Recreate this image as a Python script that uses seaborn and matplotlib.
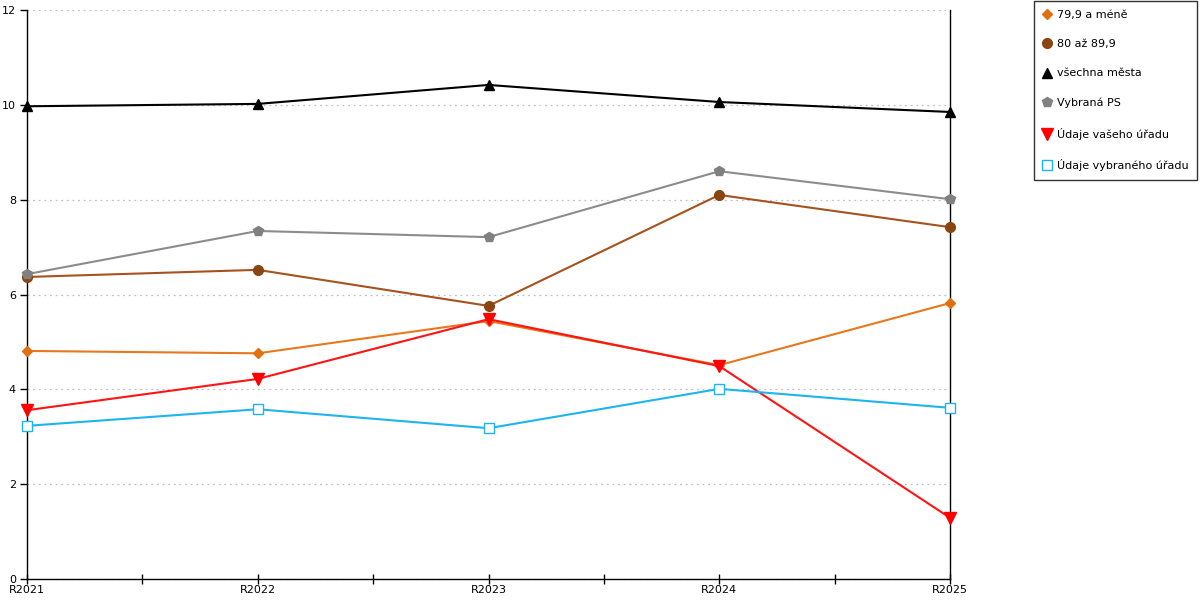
import matplotlib
matplotlib.use("Agg")
import matplotlib.pyplot as plt
from matplotlib.lines import Line2D
from matplotlib.ticker import FixedLocator
import seaborn as sns
import pandas as pd

# data
years = ["R2021", "R2022", "R2023", "R2024", "R2025"]
small_towns = [4.81, 4.76, 5.44, 4.51, 5.82]
mid_towns = [6.37, 6.52, 5.76, 8.10, 7.42]
all_towns = [9.97, 10.02, 10.42, 10.06, 9.85]
selected_ps = [6.43, 7.34, 7.21, 8.60, 8.01]
your_office = [3.56, 4.22, 5.48, 4.49, 1.29]
selected_office = [3.23, 3.58, 3.18, 4.01, 3.61]

labels = ["79,9 a méně", "80 až 89,9", "všechna města",
          "Vybraná PS", "Údaje vašeho úřadu", "Údaje vybraného úřadu"]
series = [small_towns, mid_towns, all_towns, selected_ps, your_office, selected_office]

# style per series: line colour, marker, marker face, marker size
styles = [
    ("#E8781E", "D", "#E07012", 5.5),
    ("#A5521C", "o", "#8B4510", 7),
    ("#000000", "^", "#000000", 7.5),
    ("#8C8C8C", "p", "#808080", 7.5),
    ("#FF1414", "v", "#FF0000", 8),
    ("#1EB4F0", "s", "white", 7),
]

sns.set_style("white")
plt.rcParams["font.family"] = ["DejaVu Sans"]
plt.rcParams["text.color"] = "black"

fig = plt.figure(figsize=(12, 6), dpi=100)
ax = fig.add_axes([0.0225, 0.035, 0.7692, 0.9483])

handles = []
for lab, vals, (lc, mk, mfc, ms) in zip(labels, series, styles):
    df = pd.DataFrame({"x": range(len(years)), "y": vals})
    edge = lc if mk == "s" else mfc
    sns.lineplot(data=df, x="x", y="y", ax=ax, color=lc, linewidth=1.5,
                 marker=mk, markersize=ms, markerfacecolor=mfc,
                 markeredgecolor=edge, markeredgewidth=1.0,
                 clip_on=False, zorder=3)
    handles.append(Line2D([], [], linestyle="none", marker=mk, markersize=ms,
                          markerfacecolor=mfc, markeredgecolor=edge, label=lab))

ax.set_xlim(0, len(years) - 1)
ax.set_ylim(0, 12)
ax.set_xticks(range(len(years)))
ax.set_xticklabels(years)
ax.xaxis.set_minor_locator(FixedLocator([0.5, 1.5, 2.5, 3.5]))
ax.set_yticks(range(0, 13, 2))
ax.set_xlabel("")
ax.set_ylabel("")

ax.grid(axis="y", color="#C0C0C0", linestyle=(0, (1.5, 3)), linewidth=0.9)
ax.grid(axis="x", visible=False)
ax.set_axisbelow(True)

for side in ["left", "bottom", "right"]:
    ax.spines[side].set_visible(True)
    ax.spines[side].set_color("black")
    ax.spines[side].set_linewidth(1.0)
ax.spines["top"].set_visible(False)

ax.tick_params(axis="x", which="both", direction="inout", length=7, width=1,
               bottom=True, labelsize=8, pad=1, colors="black")
ax.tick_params(axis="y", which="major", direction="out", length=5, width=1,
               left=True, labelsize=8, pad=3, colors="black")

leg = fig.legend(handles=handles, loc="upper left", bbox_to_anchor=(0.8617, 0.998),
                 frameon=True, fancybox=False, fontsize=8, labelspacing=1.75,
                 handlelength=0.8, handletextpad=0.5, borderpad=0.75,
                 borderaxespad=0)
leg.get_frame().set_edgecolor("black")
leg.get_frame().set_linewidth(1.0)
for t in leg.get_texts():
    t.set_color("black")

fig.savefig("out.png", dpi=100)
